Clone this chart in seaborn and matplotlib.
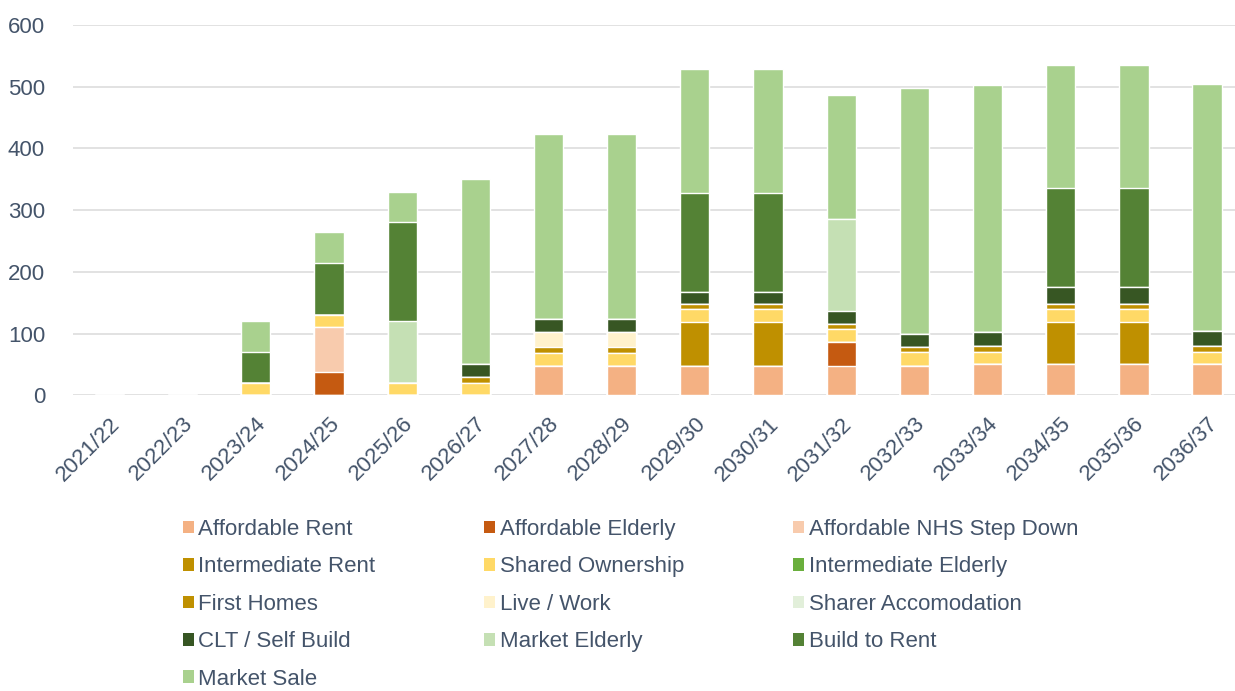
import numpy as np
import pandas as pd
import matplotlib.pyplot as plt
import seaborn as sns
from matplotlib.patches import Patch

years = ["2021/22", "2022/23", "2023/24", "2024/25", "2025/26", "2026/27", "2027/28", "2028/29",
         "2029/30", "2030/31", "2031/32", "2032/33", "2033/34", "2034/35", "2035/36", "2036/37"]

affordable_rent     = [0, 0, 0, 0, 0, 0, 48, 48, 48, 48, 48, 48, 50, 50, 50, 50]
affordable_elderly  = [0, 0, 0, 38, 0, 0, 0, 0, 0, 0, 38, 0, 0, 0, 0, 0]
affordable_nhs      = [0, 0, 0, 72, 0, 0, 0, 0, 0, 0, 0, 0, 0, 0, 0, 0]
intermediate_rent   = [0, 0, 0, 0, 0, 0, 0, 0, 70, 70, 0, 0, 0, 68, 68, 0]
shared_ownership    = [0, 0, 20, 20, 20, 20, 21, 21, 22, 22, 22, 22, 20, 22, 22, 20]
intermediate_elderly = [0] * 16
first_homes         = [0, 0, 0, 0, 0, 10, 9, 9, 8, 8, 8, 8, 10, 8, 8, 10]
live_work           = [0, 0, 0, 0, 0, 0, 25, 25, 0, 0, 0, 0, 0, 0, 0, 0]
sharer_accom        = [0] * 16
clt_self_build      = [0, 0, 0, 0, 0, 20, 21, 21, 20, 20, 20, 22, 22, 27, 27, 24]
market_elderly      = [0, 0, 0, 0, 100, 0, 0, 0, 0, 0, 150, 0, 0, 0, 0, 0]
build_to_rent       = [0, 0, 50, 84, 160, 0, 0, 0, 160, 160, 0, 0, 0, 160, 160, 0]
market_sale         = [0, 0, 50, 50, 50, 300, 300, 300, 200, 200, 200, 398, 400, 200, 200, 400]

series = ["Affordable Rent", "Affordable Elderly", "Affordable NHS Step Down",
          "Intermediate Rent", "Shared Ownership", "Intermediate Elderly",
          "First Homes", "Live / Work", "Sharer Accomodation",
          "CLT / Self Build", "Market Elderly", "Build to Rent", "Market Sale"]
colors = ["#F4B183", "#C55A11", "#F8CBAD",
          "#BF9000", "#FFD966", "#6AAF3D",
          "#BF9000", "#FFF2CC", "#E2EFDA",
          "#375623", "#C5E0B4", "#548235", "#A9D18E"]

df = pd.DataFrame(dict(zip(series, [affordable_rent, affordable_elderly, affordable_nhs,
                                    intermediate_rent, shared_ownership, intermediate_elderly,
                                    first_homes, live_work, sharer_accom, clt_self_build,
                                    market_elderly, build_to_rent, market_sale])), index=years)
cum = df.cumsum(axis=1)

sns.set_style("white")
plt.rcParams["font.family"] = ["Liberation Sans", "DejaVu Sans"]
txt = "#44546A"

fig = plt.figure(figsize=(12.35, 6.91), dpi=100)
ax = fig.add_axes([0.059, 0.428, 0.948, 0.536])

# stacked bars: draw cumulative totals from the top series down
for name, col in reversed(list(zip(series, colors))):
    sns.barplot(x=years, y=cum[name].values, color=col, width=0.4,
                saturation=1, ax=ax, zorder=3)

ax.set_ylim(0, 600)
ax.set_yticks(range(0, 601, 100))
ax.yaxis.grid(True, color="#DDDDDD", linewidth=1.2, zorder=0)
ax.set_axisbelow(True)
sns.despine(ax=ax, left=True, bottom=True)
ax.tick_params(axis="both", length=0, labelsize=16, colors=txt)
ax.tick_params(axis="y", pad=20)
plt.setp(ax.get_xticklabels(), rotation=45, ha="right", rotation_mode="anchor")
ax.tick_params(axis="x", pad=13)

handles = [Patch(facecolor=c, edgecolor="none", label=s) for s, c in zip(series, colors)]
order = [0, 3, 6, 9, 12, 1, 4, 7, 10, 2, 5, 8, 11]
leg = fig.legend([handles[i] for i in order], [series[i] for i in order],
                 ncol=3, loc="upper left", bbox_to_anchor=(0.148, 0.249),
                 frameon=False, fontsize=16, handlelength=0.5, handleheight=0.5,
                 handletextpad=0.2, labelspacing=0.74, columnspacing=4.9,
                 borderaxespad=0, borderpad=0)
for t in leg.get_texts():
    t.set_color(txt)

fig.savefig("out.png", dpi=100)
